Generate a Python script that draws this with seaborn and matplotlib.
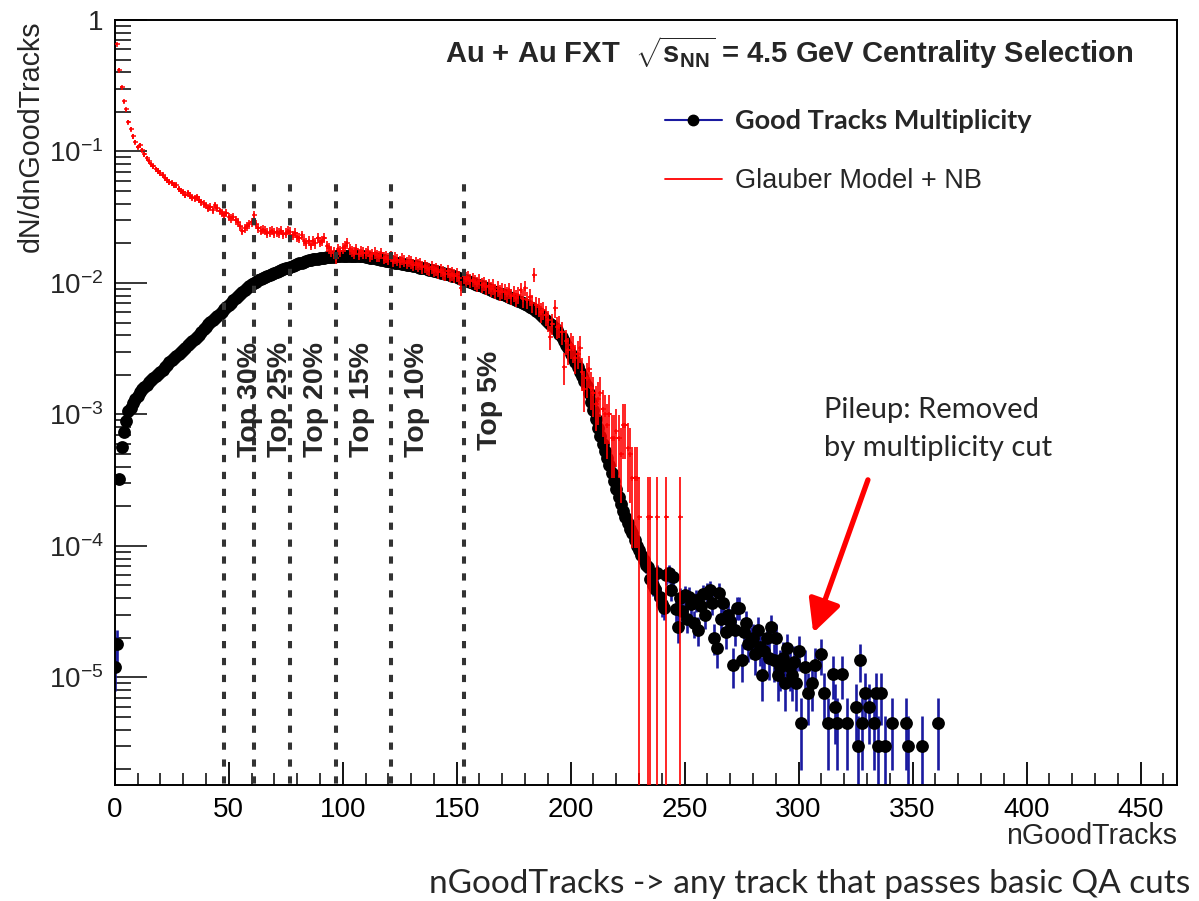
import numpy as np
import pandas as pd
import matplotlib
matplotlib.use("Agg")
import matplotlib.pyplot as plt
import seaborn as sns
from matplotlib.lines import Line2D
from matplotlib.ticker import MultipleLocator, LogLocator, NullFormatter, FixedLocator

# ---------------- data ----------------
# Good Tracks Multiplicity: one value per integer bin 0..300
black_bins = list(range(0, 301))
black_vals = [
    1.2e-5, 1.8e-5, 3.2e-4, 5.7e-4, 7.4e-4, 8.9e-4, 1.07e-3, 1.12e-3, 1.22e-3, 1.30e-3,
    1.38e-3, 1.48e-3, 1.55e-3, 1.62e-3, 1.68e-3, 1.75e-3, 1.82e-3, 1.88e-3, 1.95e-3, 2.02e-3,
    2.10e-3, 2.18e-3, 2.28e-3, 2.38e-3, 2.50e-3, 2.60e-3, 2.70e-3, 2.80e-3, 2.90e-3, 3.00e-3,
    3.10e-3, 3.22e-3, 3.35e-3, 3.48e-3, 3.62e-3, 3.76e-3, 3.90e-3, 4.05e-3, 4.25e-3, 4.45e-3,
    4.65e-3, 4.85e-3, 5.05e-3, 5.25e-3, 5.45e-3, 5.65e-3, 5.85e-3, 6.05e-3, 6.30e-3, 6.55e-3,
    6.80e-3, 7.10e-3, 7.40e-3, 7.70e-3, 8.00e-3, 8.30e-3, 8.60e-3, 8.90e-3, 9.20e-3, 9.50e-3,
    9.80e-3, 1.00e-2, 1.02e-2, 1.045e-2, 1.07e-2, 1.09e-2, 1.11e-2, 1.13e-2, 1.15e-2, 1.17e-2,
    1.19e-2, 1.21e-2, 1.23e-2, 1.25e-2, 1.27e-2, 1.29e-2, 1.31e-2, 1.33e-2, 1.35e-2, 1.37e-2,
    1.39e-2, 1.41e-2, 1.43e-2, 1.45e-2, 1.47e-2, 1.49e-2, 1.50e-2, 1.51e-2, 1.52e-2, 1.53e-2,
    1.54e-2, 1.55e-2, 1.56e-2, 1.57e-2, 1.575e-2, 1.58e-2, 1.585e-2, 1.59e-2, 1.60e-2, 1.605e-2,
    1.61e-2, 1.61e-2, 1.615e-2, 1.615e-2, 1.61e-2, 1.61e-2, 1.605e-2, 1.60e-2, 1.595e-2, 1.59e-2,
    1.58e-2, 1.57e-2, 1.56e-2, 1.55e-2, 1.54e-2, 1.53e-2, 1.52e-2, 1.505e-2, 1.49e-2, 1.475e-2,
    1.46e-2, 1.45e-2, 1.44e-2, 1.43e-2, 1.42e-2, 1.41e-2, 1.40e-2, 1.39e-2, 1.38e-2, 1.37e-2,
    1.36e-2, 1.35e-2, 1.335e-2, 1.32e-2, 1.31e-2, 1.30e-2, 1.29e-2, 1.275e-2, 1.26e-2, 1.25e-2,
    1.24e-2, 1.23e-2, 1.215e-2, 1.20e-2, 1.19e-2, 1.175e-2, 1.16e-2, 1.15e-2, 1.135e-2, 1.12e-2,
    1.105e-2, 1.09e-2, 1.075e-2, 1.06e-2, 1.045e-2, 1.03e-2, 1.015e-2, 1.00e-2, 9.85e-3, 9.7e-3,
    9.6e-3, 9.45e-3, 9.3e-3, 9.15e-3, 9.0e-3, 8.85e-3, 8.7e-3, 8.55e-3, 8.45e-3, 8.3e-3,
    8.2e-3, 8.05e-3, 7.95e-3, 7.8e-3, 7.7e-3, 7.55e-3, 7.45e-3, 7.3e-3, 7.2e-3, 7.05e-3,
    6.9e-3, 6.75e-3, 6.6e-3, 6.45e-3, 6.3e-3, 6.1e-3, 5.9e-3, 5.7e-3, 5.5e-3, 5.25e-3,
    5.05e-3, 4.9e-3, 4.75e-3, 4.55e-3, 4.35e-3, 4.1e-3, 3.85e-3, 3.6e-3, 3.4e-3, 3.2e-3,
    2.9e-3, 2.7e-3, 2.5e-3, 2.3e-3, 2.1e-3, 1.95e-3, 1.8e-3, 1.65e-3, 1.45e-3, 1.25e-3,
    1.08e-3, 9.3e-4, 7.9e-4, 6.8e-4, 6.0e-4, 5.3e-4, 4.7e-4, 4.1e-4, 3.6e-4, 3.1e-4,
    2.7e-4, 2.35e-4, 2.1e-4, 1.85e-4, 1.65e-4, 1.5e-4, 1.35e-4, 1.25e-4, 1.1e-4, 1.0e-4,
    9.3e-5, 8.5e-5, 7.8e-5, 7.2e-5, 6.9e-5, 5.6e-5, 5.0e-5, 4.7e-5, 6.2e-5, 4.1e-5,
    3.6e-5, 3.4e-5, 6.0e-5, 6.2e-5, 4.6e-5, 5.8e-5, 3.3e-5, 2.4e-5, 4.0e-5, 3.2e-5,
    4.2e-5, 2.8e-5, 4.1e-5, 3.6e-5, 2.6e-5, 3.9e-5, 2.3e-5, 3.5e-5, 4.3e-5, 3.0e-5,
    4.4e-5, 4.6e-5, 3.7e-5, 2.0e-5, 1.67e-5, 4.4e-5, 2.8e-5, 3.7e-5, 2.2e-5, 3.0e-5,
    2.7e-5, 1.25e-5, 2.3e-5, 3.4e-5, 3.4e-5, 1.36e-5, 2.2e-5, 2.6e-5, 1.8e-5, 1.9e-5,
    2.0e-5, 1.5e-5, 2.3e-5, 1.7e-5, 1.05e-5, 1.6e-5, 2.0e-5, 1.4e-5, 2.4e-5, 1.36e-5,
    2.0e-5, 1.05e-5, 1.2e-5, 1.4e-5, 9.1e-6, 1.67e-5, 1.2e-5, 1.05e-5, 1.3e-5, 9.1e-6,
    1.58e-5,
]
# sparse pile-up tail beyond 300
tail_bins = [301, 303, 304, 306, 307, 310, 311, 313, 315, 316, 317, 319, 321, 325, 326,
             327, 328, 329, 331, 333, 334, 335, 336, 338, 341, 347, 348, 354, 361]
tail_vals = [4.5e-6, 1.2e-5, 7.6e-6, 9.1e-6, 1.25e-5, 1.5e-5, 7.6e-6, 4.5e-6, 1.07e-5, 6e-6,
             4.5e-6, 1.07e-5, 4.5e-6, 6e-6, 3e-6, 1.36e-5, 4.5e-6, 7.6e-6, 6e-6, 4.5e-6,
             7.6e-6, 3e-6, 7.6e-6, 3e-6, 4.5e-6, 4.5e-6, 3e-6, 3e-6, 4.5e-6]

# Glauber Model + NB: bins 1..229 plus a few single-entry bins
glauber_bins = list(range(1, 230)) + [230, 234, 235, 238, 242, 248]
glauber_vals = [
    0.66, 0.42, 0.31, 0.24, 0.21, 0.168, 0.148, 0.13, 0.118, 0.108,
    0.112, 0.103, 0.095, 0.089, 0.084, 0.080, 0.077, 0.073, 0.071, 0.069,
    0.066, 0.063, 0.061, 0.059, 0.058, 0.056, 0.056, 0.052, 0.050, 0.049,
    0.047, 0.048, 0.046, 0.045, 0.044, 0.045, 0.043, 0.041, 0.040, 0.039,
    0.037, 0.038, 0.036, 0.039, 0.037, 0.035, 0.034, 0.033, 0.034, 0.032,
    0.031, 0.032, 0.030, 0.029, 0.027, 0.025, 0.026, 0.027, 0.028, 0.029,
    0.033, 0.028, 0.026, 0.025, 0.0255, 0.025, 0.024, 0.0245, 0.025, 0.024,
    0.0245, 0.024, 0.025, 0.0235, 0.024, 0.025, 0.0245, 0.023, 0.024, 0.0225,
    0.022, 0.023, 0.021, 0.020, 0.021, 0.0195, 0.021, 0.020, 0.022, 0.0205,
    0.021, 0.022, 0.019, 0.0185, 0.0175, 0.017, 0.0155, 0.018, 0.0175, 0.0185,
    0.019, 0.020, 0.018, 0.0175, 0.017, 0.018, 0.0165, 0.0175, 0.017, 0.0168,
    0.0175, 0.016, 0.0165, 0.017, 0.0162, 0.016, 0.0168, 0.0155, 0.0158, 0.0152,
    0.016, 0.0148, 0.0155, 0.015, 0.0145, 0.0152, 0.0147, 0.0142, 0.0148, 0.0144,
    0.0138, 0.0141, 0.0136, 0.014, 0.0132, 0.0135, 0.013, 0.0128, 0.0132, 0.0125,
    0.0128, 0.0122, 0.0126, 0.012, 0.0117, 0.0123, 0.0115, 0.0118, 0.0113, 0.0116,
    0.011, 0.0092, 0.0112, 0.0107, 0.011, 0.0104, 0.0106, 0.0101, 0.0098, 0.0103,
    0.0096, 0.0099, 0.0093, 0.0095, 0.009, 0.0094, 0.0087, 0.0091, 0.0085, 0.0088,
    0.0086, 0.0082, 0.0088, 0.0079, 0.0083, 0.0077, 0.0081, 0.0088, 0.0076, 0.0092,
    0.0074, 0.0078, 0.0070, 0.0115, 0.0068, 0.0066, 0.0060, 0.0062, 0.0057, 0.0052,
    0.0039, 0.0049, 0.0064, 0.0046, 0.0047, 0.0042, 0.0023, 0.0036, 0.0031, 0.0034,
    0.0032, 0.0027, 0.0029, 0.0032, 0.0021, 0.00155, 0.0019, 0.0022, 0.0016, 0.00145,
    0.0012, 0.0013, 0.00145, 0.0011, 0.0010, 0.00083, 0.0010, 0.00066, 0.00066, 0.00075,
    0.00066, 0.0005, 0.00083, 0.00083, 0.00056, 0.0005, 0.00033, 0.00033, 0.00033,
    1.66e-4, 1.66e-4, 1.66e-4, 1.66e-4, 1.66e-4, 1.66e-4,
]
# weight of one entry (Poisson error scale) of each histogram
black_unit = 1.4e-6
glauber_unit = 1.66e-4

cut_values = [48, 61, 77, 97, 121, 153]
cut_labels = ["Top 30%", "Top 25%", "Top 20%", "Top 15%", "Top 10%", "Top 5%"]

x_ticks = [0, 50, 100, 150, 200, 250, 300, 350, 400, 450]
y_ticks = [1e-5, 1e-4, 1e-3, 1e-2, 1e-1, 1]
y_tick_labels = [r"$10^{-5}$", r"$10^{-4}$", r"$10^{-3}$", r"$10^{-2}$", r"$10^{-1}$", "1"]

# ---------------- style ----------------
sns.set_theme(style="white")
plt.rcParams["font.family"] = ["Liberation Sans", "DejaVu Sans"]
plt.rcParams["mathtext.fontset"] = "custom"
plt.rcParams["mathtext.rm"] = "Liberation Sans"
plt.rcParams["mathtext.it"] = "Liberation Sans:italic"
plt.rcParams["mathtext.bf"] = "Liberation Sans:bold"

BLUE = "#1a1aa0"
RED = "#ff0000"

fig = plt.figure(figsize=(11.99, 9.01), dpi=100)
ax = fig.add_axes([0.0957, 0.1288, 0.886, 0.849])
ax.set_yscale("log")

# ---------------- black histogram ----------------
bx = np.array(black_bins + tail_bins, dtype=float)
by = np.array(black_vals + tail_vals, dtype=float)
berr = np.sqrt(by * black_unit)
blo = np.minimum(berr, by * 0.999)
ax.errorbar(bx, by, yerr=[blo, berr], fmt="none", ecolor=BLUE, elinewidth=1.9,
            capsize=0, zorder=2)
df_black = pd.DataFrame({"nGoodTracks": bx, "dN": by})
sns.scatterplot(data=df_black, x="nGoodTracks", y="dN", ax=ax, color="black",
                s=85, marker="o", linewidth=0, zorder=3, legend=False)

# ---------------- Glauber ----------------
gx = np.array(glauber_bins, dtype=float)
gy = np.array(glauber_vals, dtype=float)
gerr = np.sqrt(gy * glauber_unit)
glo = np.minimum(gerr, gy * 0.999)
ax.errorbar(gx, gy, xerr=0.5, yerr=[glo, gerr], fmt="+", color=RED, ms=3.6, mew=1.1,
            ecolor=RED, elinewidth=1.2, capsize=0, zorder=4)

# ---------------- centrality cuts ----------------
ax.vlines(cut_values, 1e-7, 0.0607, colors="#333333", linestyles=(0, (1.8, 2.4)),
          linewidth=2.9, zorder=5)
for cv, lab in zip(cut_values, cut_labels):
    ax.text(cv + 11.4, 1.29e-3, lab, rotation=90, ha="center", va="center",
            fontsize=20.5, fontweight="bold", zorder=6)

# ---------------- axes ----------------
ax.set_xlim(0, 466)
ax.set_ylim(1.52e-6, 1)
ax.xaxis.set_major_locator(FixedLocator(x_ticks))
ax.xaxis.set_minor_locator(MultipleLocator(10))
ax.yaxis.set_major_locator(FixedLocator(y_ticks))
ax.set_yticklabels(y_tick_labels)
ax.yaxis.set_minor_locator(LogLocator(base=10, subs=np.arange(2, 10), numticks=20))
ax.yaxis.set_minor_formatter(NullFormatter())
ax.tick_params(axis="x", which="major", direction="in", length=16.5, width=1.3,
               labelsize=20, pad=9, top=False, bottom=True, colors="black")
ax.tick_params(axis="x", which="minor", direction="in", length=8.6, width=1.3,
               top=False, bottom=True)
ax.tick_params(axis="y", which="major", direction="in", length=23, width=1.3,
               labelsize=20, pad=8, right=False, left=True)
ax.tick_params(axis="y", which="minor", direction="in", length=11.5, width=1.3,
               right=False, left=True)
for sp in ax.spines.values():
    sp.set_color("black")
    sp.set_linewidth(1.4)

ax.set_xlabel("nGoodTracks", fontsize=20.6, loc="right")
ax.xaxis.set_label_coords(1.0, -0.049)
ax.set_ylabel("dN/dnGoodTracks", fontsize=20.6, loc="top")
ax.yaxis.set_label_coords(-0.066, 1.0)

# ---------------- title / legend / annotations ----------------
fig.text(445 / 1199, 1 - 53 / 901,
         r"Au + Au FXT  $\sqrt{\mathbf{s}_{\mathbf{NN}}}$ = 4.5 GeV Centrality Selection",
         fontsize=21, fontweight="bold", ha="left", va="center")

handles = [Line2D([], [], color=BLUE, lw=1.5, marker="o", ms=7.5, mfc="black", mec="black"),
           Line2D([], [], color=RED, lw=1.3)]
leg = ax.legend(handles, ["Good Tracks Multiplicity", "Glauber Model + NB"],
                loc="upper left", bbox_to_anchor=(665 / 1199, 1 - 109 / 901),
                bbox_transform=fig.transFigure, frameon=False, fontsize=19.5,
                handlelength=2.1, handletextpad=0.48, labelspacing=1.3,
                borderpad=0, borderaxespad=0)
t0, t1 = leg.get_texts()
t0.set_fontweight("bold")
t0.set_family(["Lato", "DejaVu Sans"])
t0.set_fontsize(19.5)

fig.text(824 / 1199, 1 - 397 / 901, "Pileup: Removed\nby multiplicity cut",
         fontsize=21, family=["Lato", "DejaVu Sans"], ha="left", va="top",
         linespacing=1.55)
ax.annotate("", xy=(306.4, 2.18e-5), xytext=(330.4, 3.18e-4),
            arrowprops=dict(arrowstyle="-|>,head_length=0.9,head_width=0.45",
                            color=RED, lw=3.8, shrinkA=0, shrinkB=0,
                            mutation_scale=22))

fig.text(1190 / 1199, 1 - 884 / 901,
         "nGoodTracks -> any track that passes basic QA cuts",
         fontsize=24, family=["Lato", "DejaVu Sans"], ha="right", va="center")

fig.savefig("out.png", dpi=100)
